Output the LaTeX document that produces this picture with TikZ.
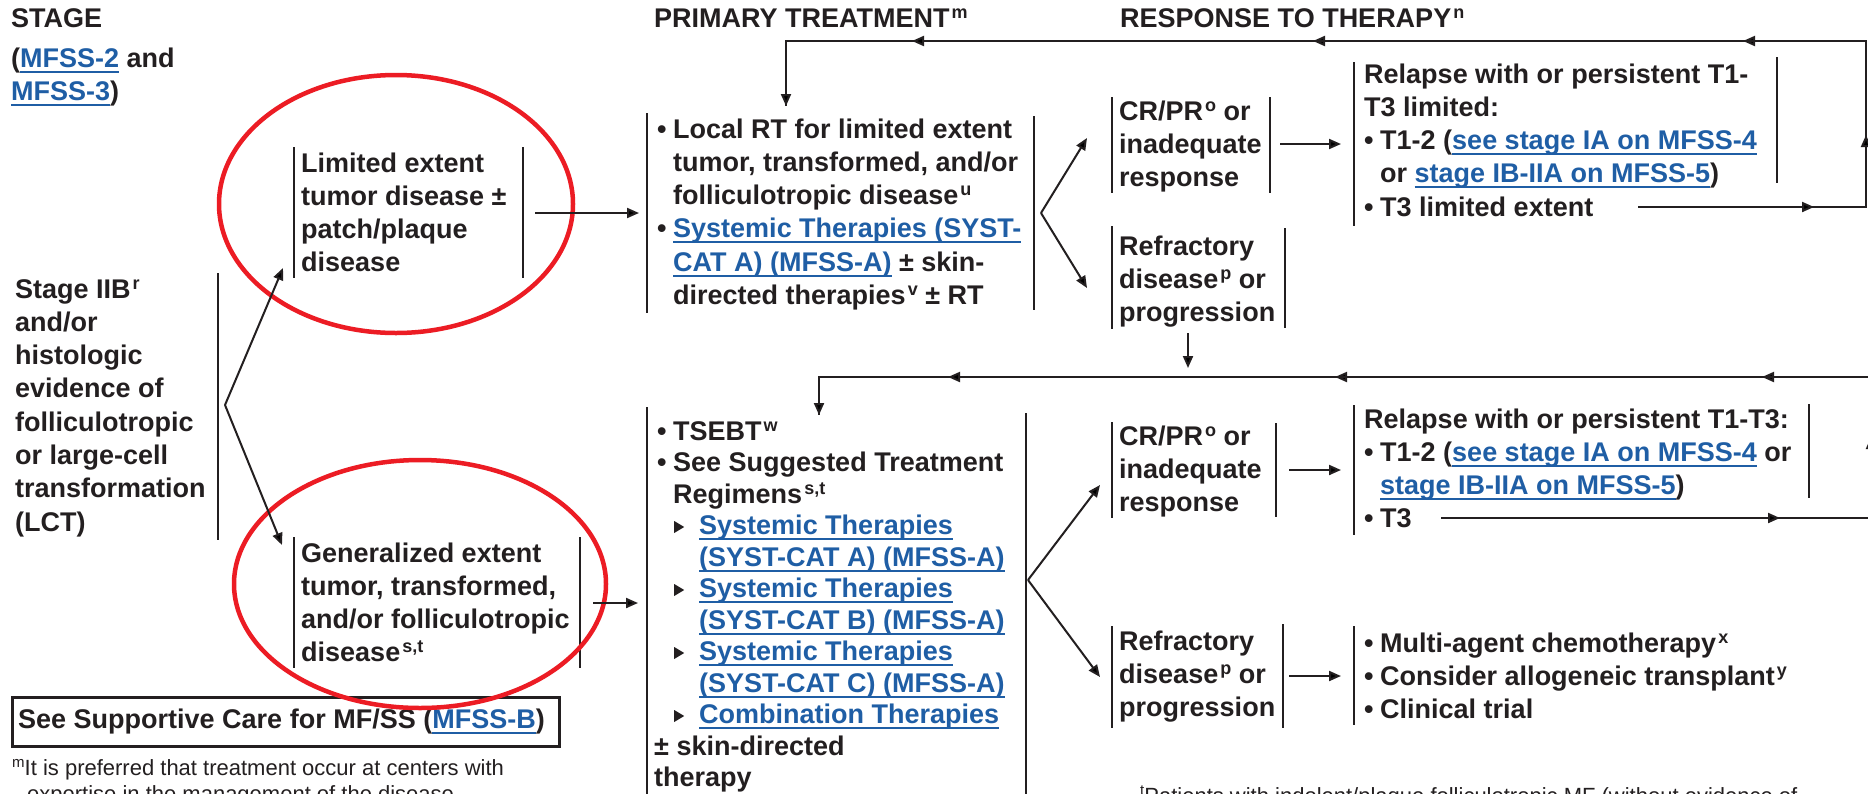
\documentclass[tikz,border=0pt]{standalone}
\usepackage{fontspec}
\setmainfont{Liberation Sans}
\usetikzlibrary{arrows.meta}
\definecolor{ink}{RGB}{35,31,32}
\definecolor{lb}{RGB}{31,94,165}
\definecolor{redc}{RGB}{236,28,36}
\newcommand\lnk[1]{{\color{lb}\setbox0=\hbox{#1}\rlap{\vrule height -3.5pt depth 5.5pt width \wd0}\box0}}
\newcommand\sups[1]{\kern2pt\raisebox{9pt}{\fontsize{18}{18}\selectfont #1}}
\newcommand\fsup[1]{\raisebox{8pt}{\fontsize{15}{15}\selectfont #1}}
\newcommand\bu{\hbox to 16pt{\textbullet\hss}}
\newcommand\ind{\kern16pt}
\newcommand\tri{\hbox to 26pt{\kern1pt\tikz[baseline=0pt]\fill[ink] (0pt,1.5pt)--(0pt,13.5pt)--(10pt,7.5pt)--cycle;\hss}}
\newcommand\ml[1]{\vtop{\halign{##\hfil\cr#1\crcr}}}
\tikzset{
  tx/.style={inner sep=0pt, anchor=base west, text=ink, font=\bfseries\fontsize{27}{33.3}\selectfont},
  tx2/.style={inner sep=0pt, anchor=base west, text=ink, font=\bfseries\fontsize{27}{31.5}\selectfont},
  fn/.style={inner sep=0pt, anchor=base west, text=ink, font=\fontsize{22}{26.5}\selectfont},
  bar/.style={draw=ink, line width=2.2pt},
  ln/.style={draw=ink, line width=2pt},
  arr/.style={draw=ink, line width=2pt, -{Triangle[length=12pt,width=10pt]}},
  ring/.style={draw=redc, line width=4.5pt},
}
\begin{document}
\begin{tikzpicture}[x=1pt,y=-1pt]
\useasboundingbox (0,0) rectangle (1868,793);
\fill[white] (0,0) rectangle (1868,793);
\clip (0,0) rectangle (1868,793);

% headers
\node[tx] (hStage) at (11,27) {STAGE};
\node[tx] (hRef) at (11,67) {\ml{(\lnk{MFSS-2} and\cr\lnk{MFSS-3})}};
\node[tx] (hPrim) at (654,27) {PRIMARY TREATMENT\sups{m}};
\node[tx] (hResp) at (1120,27) {RESPONSE TO THERAPY\sups{n}};

% stage column
\node[tx] (stage) at (15,298) {\ml{Stage IIB\sups{r}\cr and/or\cr histologic\cr evidence of\cr folliculotropic\cr or large-cell\cr transformation\cr (LCT)}};
\draw[bar] (218,273) -- (218,540);

\node[tx] (lim) at (301,172) {\ml{Limited extent\cr tumor disease ±\cr patch/plaque\cr disease}};
\draw[bar] (294,147) -- (294,278);
\draw[bar] (523,147) -- (523,278);

\node[tx] (gen) at (301,562) {\ml{Generalized extent\cr tumor, transformed,\cr and/or folliculotropic\cr disease\sups{s,t}}};
\draw[bar] (294,537) -- (294,668);
\draw[bar] (580,537) -- (580,668);

% primary treatment boxes
\node[tx] (prim) at (657,138) {\ml{\bu Local RT for limited extent\cr \ind tumor, transformed, and/or\cr \ind folliculotropic disease\sups{u}\cr \bu\lnk{Systemic Therapies (SYST-}\cr \ind\lnk{CAT A) (MFSS-A)} ± skin-\cr \ind directed therapies\sups{v} ± RT}};
\draw[bar] (647,113) -- (647,313);
\draw[bar] (1034,116) -- (1034,310);

\node[tx2] (tse) at (657,440) {\ml{\bu TSEBT\sups{w}\cr \bu See Suggested Treatment\cr \ind Regimens\sups{s,t}\cr \ind\tri\lnk{Systemic Therapies}\cr \ind\kern26pt\lnk{(SYST-CAT A) (MFSS-A)}\cr \ind\tri\lnk{Systemic Therapies}\cr \ind\kern26pt\lnk{(SYST-CAT B) (MFSS-A)}\cr \ind\tri\lnk{Systemic Therapies}\cr \ind\kern26pt\lnk{(SYST-CAT C) (MFSS-A)}\cr \ind\tri\lnk{Combination Therapies}\cr \kern-3pt ± skin-directed\cr \kern-3pt therapy}};
\draw[bar] (647,407) -- (647,800);
\draw[bar] (1026,413) -- (1026,800);

% response boxes (upper)
\node[tx] (crpr1) at (1119,120) {\ml{CR/PR\sups{o} or\cr inadequate\cr response}};
\draw[bar] (1112,97) -- (1112,193);
\draw[bar] (1270,97) -- (1270,193);
\node[tx] (ref1) at (1119,255) {\ml{Refractory\cr disease\sups{p} or\cr progression}};
\draw[bar] (1112,226) -- (1112,329);
\draw[bar] (1285,228) -- (1285,328);
\node[tx] (rel1) at (1364,83) {\ml{Relapse with or persistent T1-\cr T3 limited:\cr \bu T1-2 (\lnk{see stage IA on MFSS-4}\cr \ind or \lnk{stage IB-IIA on MFSS-5})\cr \bu T3 limited extent}};
\draw[bar] (1354,62) -- (1354,226);
\draw[bar] (1777,57) -- (1777,183);

% response boxes (lower)
\node[tx] (crpr2) at (1119,445) {\ml{CR/PR\sups{o} or\cr inadequate\cr response}};
\draw[bar] (1112,422) -- (1112,518);
\draw[bar] (1276,423) -- (1276,517);
\node[tx] (ref2) at (1119,650) {\ml{Refractory\cr disease\sups{p} or\cr progression}};
\draw[bar] (1112,626) -- (1112,728);
\draw[bar] (1283,624) -- (1283,728);
\node[tx] (rel2) at (1364,428) {\ml{Relapse with or persistent T1-T3:\cr \bu T1-2 (\lnk{see stage IA on MFSS-4} or\cr \ind\lnk{stage IB-IIA on MFSS-5})\cr \bu T3}};
\draw[bar] (1354,405) -- (1354,535);
\draw[bar] (1809,404) -- (1809,498);
\node[tx] (multi) at (1364,652) {\ml{\bu Multi-agent chemotherapy\sups{x}\cr \bu Consider allogeneic transplant\sups{y}\cr \bu Clinical trial}};
\draw[bar] (1354,626) -- (1354,725);

% supportive care and footnotes
\node[draw=ink, line width=2.5pt, minimum width=547pt, minimum height=49pt, anchor=north west, inner sep=0pt] (supbox) at (11,696) {};
\node[tx] (sup) at (18,728) {See Supportive Care for MF/SS (\lnk{MFSS-B})};
\node[fn] (fnm) at (12,775) {\ml{\fsup{m}It is preferred that treatment occur at centers with\cr \kern15pt expertise in the management of the disease.}};
\node[fn] (fnt) at (1140,803) {\fsup{t}Patients with indolent/plaque folliculotropic MF (without evidence of};

% red ellipses
\draw[ring] (396,204) ellipse [x radius=177pt, y radius=129pt];
\draw[ring] (420,584) ellipse [x radius=186pt, y radius=124pt];

% coordinates
\coordinate (fork0) at (225,405);
\coordinate (limIn) at (283,268);
\coordinate (genIn) at (282,545);
\coordinate (limOut) at (535,213);
\coordinate (primIn) at (639,213);
\coordinate (genOut) at (593,603);
\coordinate (tseIn) at (638,603);
\coordinate (fork1) at (1041,213);
\coordinate (crpr1In) at (1087,138);
\coordinate (ref1In) at (1087,288);
\coordinate (crpr1Out) at (1280,144);
\coordinate (rel1In) at (1341,144);
\coordinate (ref1Out) at (1188,333);
\coordinate (ref1Dn) at (1188,368);
\coordinate (fork2) at (1028,580);
\coordinate (crpr2In) at (1100,485);
\coordinate (ref2In) at (1100,677);
\coordinate (crpr2Out) at (1289,470);
\coordinate (rel2In) at (1341,470);
\coordinate (ref2Out) at (1289,676);
\coordinate (multiIn) at (1341,676);
% loop 1
\coordinate (t3a) at (1638,207);
\coordinate (l1a) at (1866,207);
\coordinate (l1b) at (1866,41);
\coordinate (l1c) at (786,41);
\coordinate (l1d) at (786,106);
% loop 2
\coordinate (t3b) at (1441,518);
\coordinate (l2a) at (1871,518);
\coordinate (l2b) at (1871,377);
\coordinate (l2c) at (819,377);
\coordinate (l2d) at (819,415);

% connectors
\draw[arr] (fork0) -- (limIn);
\draw[arr] (fork0) -- (genIn);
\draw[arr] (limOut) -- (primIn);
\draw[arr] (genOut) -- (tseIn);
\draw[arr] (fork1) -- (crpr1In);
\draw[arr] (fork1) -- (ref1In);
\draw[arr] (crpr1Out) -- (rel1In);
\draw[arr] (ref1Out) -- (ref1Dn);
\draw[arr] (fork2) -- (crpr2In);
\draw[arr] (fork2) -- (ref2In);
\draw[arr] (crpr2Out) -- (rel2In);
\draw[arr] (ref2Out) -- (multiIn);

\draw[ln] (t3a) -- (l1a) -- (l1b) -- (l1c) -- (l1d);
\draw[arr] (t3a) -- (1814,207);
\draw[arr] (l1a) -- (1866,135);
\draw[arr] (l1b) -- (1743,41);
\draw[arr] (l1b) -- (1313,41);
\draw[arr] (l1b) -- (912,41);
\draw[arr] (l1c) -- (l1d);

\draw[ln] (t3b) -- (l2a) -- (l2b) -- (l2c) -- (l2d);
\draw[arr] (t3b) -- (1780,518);
\draw[arr] (l2a) -- (1871,437);
\draw[arr] (l2b) -- (1762,377);
\draw[arr] (l2b) -- (1335,377);
\draw[arr] (l2b) -- (948,377);
\draw[arr] (l2c) -- (l2d);
\end{tikzpicture}
\end{document}
